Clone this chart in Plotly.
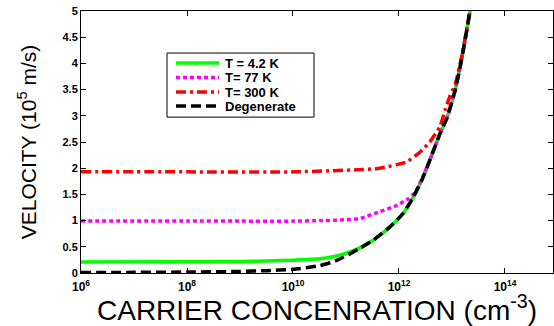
import plotly.graph_objects as go

# log10 of carrier concentration (cm^-3) and velocities (1e5 m/s)
logn_degenerate = [6, 7, 8, 9, 9.5, 10, 10.5, 10.75, 10.95, 11.26, 11.52, 11.83, 12.08, 12.27, 12.43,
                   12.58, 12.77, 12.9, 13.06, 13.18, 13.28, 13.34, 13.4]
v_degenerate = [0.01, 0.012, 0.018, 0.03, 0.045, 0.07, 0.14, 0.21, 0.30, 0.47, 0.63, 0.88, 1.14, 1.45, 1.77,
                2.15, 2.65, 2.95, 3.49, 4.07, 4.64, 5.0, 5.4]

logn_42 = [6, 8, 9, 9.5, 10, 10.5, 10.75, 10.95, 11.26, 11.52, 11.83, 12.08, 12.27, 12.43,
           12.58, 12.77, 12.9, 13.06, 13.18, 13.28, 13.34, 13.4]
v_42 = [0.21, 0.215, 0.22, 0.23, 0.245, 0.27, 0.31, 0.36, 0.48, 0.63, 0.88, 1.14, 1.45, 1.77,
        2.15, 2.65, 2.95, 3.49, 4.07, 4.64, 5.0, 5.4]

logn_77 = [6, 8, 9, 10, 10.5, 10.89, 11.26, 11.64, 11.96, 12.18, 12.3, 12.43,
           12.58, 12.77, 12.9, 13.06, 13.18, 13.28, 13.34, 13.4]
v_77 = [0.99, 0.99, 0.99, 0.99, 1.0, 1.01, 1.04, 1.17, 1.29, 1.42, 1.53, 1.79,
        2.15, 2.65, 2.95, 3.49, 4.07, 4.64, 5.0, 5.4]

logn_300 = [6, 8, 10, 10.7, 11.2, 11.64, 12.14, 12.4, 12.58, 12.77, 12.87, 12.96, 13.06, 13.18, 13.28, 13.34, 13.4]
v_300 = [1.93, 1.93, 1.93, 1.95, 1.97, 2.0, 2.12, 2.31, 2.5, 2.79, 3.11, 3.37, 3.6, 4.12, 4.66, 5.0, 5.4]

series_names = ["T = 4.2 K", "T= 77 K", "T= 300 K", "Degenerate"]
series_colors = ["#00ff00", "#ff00ff", "#ff0000", "#000000"]
series_dashes = ["solid", "4px,3px", "10px,4px,3px,4px", "10px,5px"]

x_tick_exps = [6, 8, 10, 12, 14]
y_ticks = [0, 0.5, 1, 1.5, 2, 2.5, 3, 3.5, 4, 4.5, 5]
y_tick_labels = ["0", "0.5", "1", "1.5", "2", "2.5", "3", "3.5", "4", "4.5", "5"]

FONT = "Arial, Liberation Sans, sans-serif"


def pw(lst):
    return [10 ** e for e in lst]


fig = go.Figure()
data = [(logn_42, v_42), (logn_77, v_77), (logn_300, v_300), (logn_degenerate, v_degenerate)]
for (lx, vy), name, col, dash in zip(data, series_names, series_colors, series_dashes):
    fig.add_trace(go.Scatter(x=pw(lx), y=vy, mode="lines", name=name, showlegend=False,
                             line=dict(color=col, width=3.5, dash=dash, shape="spline", smoothing=0.5)))

# legend box drawn in paper coordinates (plot area: 81..553 px wide, 11..272.7 px tall)
PL, PR, PT, PB = 81, 553, 11, 272.7


def px_x(p):
    return (p - PL) / (PR - PL)


def px_y(p):
    return (PB - p) / (PB - PT)


shapes = [dict(type="rect", xref="paper", yref="paper",
               x0=px_x(167), x1=px_x(314), y0=px_y(117), y1=px_y(53),
               line=dict(color="black", width=1), fillcolor="white", layer="above")]
annotations = []
row_y = [63, 77.5, 92, 106]
for ry, name, col, dash in zip(row_y, series_names, series_colors, series_dashes):
    shapes.append(dict(type="line", xref="paper", yref="paper",
                       x0=px_x(176), x1=px_x(219), y0=px_y(ry), y1=px_y(ry),
                       line=dict(color=col, width=3.5, dash=dash), layer="above"))
    annotations.append(dict(xref="paper", yref="paper", x=px_x(223), y=px_y(ry),
                            xanchor="left", yanchor="middle", showarrow=False,
                            text="<b>%s</b>" % name,
                            font=dict(size=13, family=FONT, color="black")))

fig.update_layout(
    width=554, height=326,
    margin=dict(l=81, r=1, t=11, b=53, autoexpand=False),
    paper_bgcolor="white", plot_bgcolor="white",
    font=dict(family=FONT, color="black"),
    showlegend=False,
    shapes=shapes,
    annotations=annotations,
    xaxis=dict(type="log", range=[6, 14.906],
               tickvals=pw(x_tick_exps),
               ticktext=["<b>10<sup>%d</sup></b>" % e for e in x_tick_exps],
               ticks="inside", ticklen=5, tickcolor="black",
               showline=True, linecolor="black", linewidth=1, mirror="ticks",
               showgrid=False, zeroline=False, ticklabelstandoff=3,
               tickfont=dict(size=12, family=FONT),
               title=dict(text="CARRIER CONCENRATION (cm<sup>-3</sup>)",
                          font=dict(size=28, family=FONT), standoff=6)),
    yaxis=dict(range=[0, 5], tickvals=y_ticks,
               ticktext=["<b>%s</b>" % t for t in y_tick_labels],
               ticks="inside", ticklen=5, tickcolor="black",
               showline=True, linecolor="black", linewidth=1, mirror="ticks",
               showgrid=False, zeroline=False,
               tickfont=dict(size=11, family=FONT),
               title=dict(text="VELOCITY (10<sup>5</sup> m/s)",
                          font=dict(size=21, family=FONT), standoff=20)),
)

fig.write_html("out.html")
